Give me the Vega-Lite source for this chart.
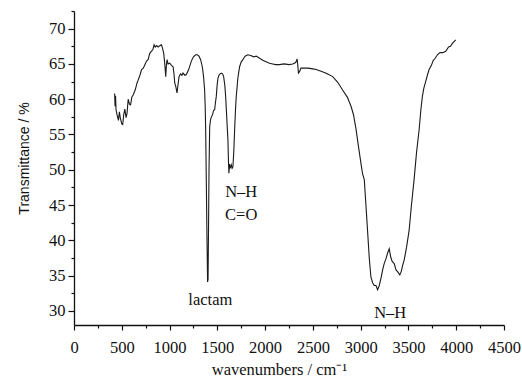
{
  "$schema": "https://vega.github.io/schema/vega-lite/v6.json",
  "width": 430,
  "height": 314,
  "autosize": "none",
  "padding": {"left": 74, "top": 11, "right": 18, "bottom": 54},
  "background": "white",
  "config": {"view": {"stroke": null}},
  "datasets": {
    "spectrum": [
      {"wn": 425, "T": 60.8}, {"wn": 430, "T": 59.0}, {"wn": 435, "T": 60.5}, {"wn": 440, "T": 58.5},
      {"wn": 450, "T": 57.8}, {"wn": 465, "T": 57.0}, {"wn": 475, "T": 58.2}, {"wn": 485, "T": 57.3},
      {"wn": 500, "T": 56.5}, {"wn": 510, "T": 56.4}, {"wn": 520, "T": 57.8}, {"wn": 532, "T": 58.6},
      {"wn": 545, "T": 57.4}, {"wn": 555, "T": 58.0}, {"wn": 567, "T": 60.0}, {"wn": 580, "T": 59.3},
      {"wn": 592, "T": 59.2}, {"wn": 605, "T": 60.3}, {"wn": 619, "T": 60.6}, {"wn": 640, "T": 61.3},
      {"wn": 660, "T": 62.3}, {"wn": 671, "T": 62.7}, {"wn": 690, "T": 63.4}, {"wn": 707, "T": 64.2},
      {"wn": 725, "T": 64.4}, {"wn": 745, "T": 65.0}, {"wn": 759, "T": 65.4}, {"wn": 775, "T": 65.6},
      {"wn": 793, "T": 66.5}, {"wn": 810, "T": 66.8}, {"wn": 825, "T": 67.0}, {"wn": 838, "T": 67.7},
      {"wn": 850, "T": 67.4}, {"wn": 865, "T": 67.6}, {"wn": 880, "T": 67.4}, {"wn": 900, "T": 67.6},
      {"wn": 915, "T": 67.7}, {"wn": 925, "T": 67.3}, {"wn": 939, "T": 66.5}, {"wn": 950, "T": 65.0},
      {"wn": 960, "T": 63.2}, {"wn": 967, "T": 64.8}, {"wn": 974, "T": 65.6}, {"wn": 985, "T": 65.0},
      {"wn": 1002, "T": 65.1}, {"wn": 1020, "T": 64.8}, {"wn": 1037, "T": 64.6}, {"wn": 1047, "T": 63.5},
      {"wn": 1054, "T": 62.3}, {"wn": 1065, "T": 61.8}, {"wn": 1078, "T": 60.9}, {"wn": 1088, "T": 62.0},
      {"wn": 1099, "T": 63.2}, {"wn": 1115, "T": 63.6}, {"wn": 1130, "T": 63.4}, {"wn": 1141, "T": 63.7},
      {"wn": 1160, "T": 63.4}, {"wn": 1176, "T": 63.5}, {"wn": 1200, "T": 64.2}, {"wn": 1228, "T": 65.4},
      {"wn": 1250, "T": 66.0}, {"wn": 1273, "T": 66.3}, {"wn": 1290, "T": 66.3}, {"wn": 1308, "T": 66.1},
      {"wn": 1325, "T": 65.6}, {"wn": 1343, "T": 64.6}, {"wn": 1355, "T": 63.3}, {"wn": 1367, "T": 61.3},
      {"wn": 1373, "T": 59.0}, {"wn": 1378, "T": 55.7}, {"wn": 1385, "T": 48.0}, {"wn": 1392, "T": 40.0},
      {"wn": 1398, "T": 34.1}, {"wn": 1403, "T": 34.5}, {"wn": 1408, "T": 42.0}, {"wn": 1413, "T": 50.0},
      {"wn": 1420, "T": 56.1}, {"wn": 1428, "T": 57.0}, {"wn": 1437, "T": 57.5}, {"wn": 1450, "T": 57.8},
      {"wn": 1460, "T": 58.4}, {"wn": 1472, "T": 58.5}, {"wn": 1480, "T": 59.5}, {"wn": 1489, "T": 60.4},
      {"wn": 1498, "T": 62.0}, {"wn": 1507, "T": 63.0}, {"wn": 1520, "T": 63.5}, {"wn": 1541, "T": 63.7},
      {"wn": 1555, "T": 63.6}, {"wn": 1566, "T": 63.2}, {"wn": 1578, "T": 62.0}, {"wn": 1587, "T": 60.4},
      {"wn": 1600, "T": 57.0}, {"wn": 1611, "T": 54.2}, {"wn": 1617, "T": 51.0}, {"wn": 1621, "T": 49.5},
      {"wn": 1628, "T": 50.8}, {"wn": 1635, "T": 50.2}, {"wn": 1646, "T": 50.7}, {"wn": 1655, "T": 50.2},
      {"wn": 1663, "T": 50.4}, {"wn": 1672, "T": 52.5}, {"wn": 1681, "T": 55.7}, {"wn": 1690, "T": 58.5},
      {"wn": 1698, "T": 60.4}, {"wn": 1715, "T": 63.0}, {"wn": 1733, "T": 64.6}, {"wn": 1750, "T": 65.3},
      {"wn": 1767, "T": 65.6}, {"wn": 1790, "T": 66.1}, {"wn": 1820, "T": 66.3}, {"wn": 1850, "T": 66.2},
      {"wn": 1880, "T": 66.0}, {"wn": 1907, "T": 66.1}, {"wn": 1942, "T": 65.8}, {"wn": 1980, "T": 65.5},
      {"wn": 2010, "T": 65.3}, {"wn": 2046, "T": 65.1}, {"wn": 2080, "T": 65.0}, {"wn": 2110, "T": 64.9},
      {"wn": 2150, "T": 64.9}, {"wn": 2200, "T": 65.0}, {"wn": 2250, "T": 64.9}, {"wn": 2289, "T": 65.0},
      {"wn": 2320, "T": 65.2}, {"wn": 2335, "T": 65.7}, {"wn": 2342, "T": 64.8}, {"wn": 2349, "T": 63.7},
      {"wn": 2360, "T": 63.9}, {"wn": 2375, "T": 64.4}, {"wn": 2394, "T": 64.4}, {"wn": 2450, "T": 64.4},
      {"wn": 2500, "T": 64.3}, {"wn": 2533, "T": 64.2}, {"wn": 2600, "T": 63.9}, {"wn": 2650, "T": 63.6},
      {"wn": 2707, "T": 63.2}, {"wn": 2760, "T": 62.4}, {"wn": 2811, "T": 61.3}, {"wn": 2860, "T": 60.3},
      {"wn": 2899, "T": 59.0}, {"wn": 2925, "T": 57.8}, {"wn": 2951, "T": 55.8}, {"wn": 2975, "T": 53.5},
      {"wn": 3003, "T": 50.9}, {"wn": 3020, "T": 49.4}, {"wn": 3038, "T": 48.6}, {"wn": 3055, "T": 45.0},
      {"wn": 3072, "T": 41.4}, {"wn": 3090, "T": 37.5}, {"wn": 3107, "T": 34.8}, {"wn": 3125, "T": 34.0},
      {"wn": 3142, "T": 33.6}, {"wn": 3160, "T": 33.6}, {"wn": 3177, "T": 33.0}, {"wn": 3195, "T": 33.6},
      {"wn": 3212, "T": 34.6}, {"wn": 3230, "T": 35.8}, {"wn": 3246, "T": 36.7}, {"wn": 3265, "T": 37.4},
      {"wn": 3282, "T": 38.2}, {"wn": 3299, "T": 38.8}, {"wn": 3315, "T": 37.6}, {"wn": 3330, "T": 37.0},
      {"wn": 3351, "T": 36.7}, {"wn": 3370, "T": 35.8}, {"wn": 3390, "T": 35.5}, {"wn": 3410, "T": 35.1},
      {"wn": 3425, "T": 35.6}, {"wn": 3440, "T": 36.5}, {"wn": 3455, "T": 37.2}, {"wn": 3480, "T": 39.0},
      {"wn": 3507, "T": 41.4}, {"wn": 3530, "T": 44.8}, {"wn": 3559, "T": 48.6}, {"wn": 3585, "T": 52.5},
      {"wn": 3612, "T": 55.7}, {"wn": 3630, "T": 58.5}, {"wn": 3646, "T": 60.4}, {"wn": 3660, "T": 61.5},
      {"wn": 3680, "T": 62.5}, {"wn": 3700, "T": 63.5}, {"wn": 3716, "T": 64.2}, {"wn": 3740, "T": 64.8},
      {"wn": 3760, "T": 65.5}, {"wn": 3780, "T": 65.8}, {"wn": 3803, "T": 66.3}, {"wn": 3830, "T": 66.6},
      {"wn": 3860, "T": 66.6}, {"wn": 3890, "T": 66.8}, {"wn": 3920, "T": 67.4}, {"wn": 3940, "T": 67.5},
      {"wn": 3960, "T": 67.9}, {"wn": 3980, "T": 68.2}, {"wn": 3995, "T": 68.4}
    ],
    "labels": [
      {"wn": 1427, "T": 31.6, "label": "lactam"},
      {"wn": 1750, "T": 46.9, "label": "N–H"},
      {"wn": 1750, "T": 43.6, "label": "C=O"},
      {"wn": 3309, "T": 29.7, "label": "N–H"}
    ]
  },
  "resolve": {"axis": {"x": "independent", "y": "independent"}},
  "layer": [
    {
      "data": {"name": "spectrum"},
      "mark": {"type": "line", "color": "#1a1a1a", "strokeWidth": 1.1, "interpolate": "linear"},
      "encoding": {
        "x": {
          "field": "wn", "type": "quantitative",
          "scale": {"domain": [0, 4500], "nice": false, "zero": false},
          "axis": {
            "orient": "bottom",
            "title": "wavenumbers / cm⁻¹",
            "titleFont": "Liberation Serif", "titleFontSize": 16.5, "titleFontWeight": "normal", "titleColor": "#111",
            "titlePadding": 6, "titleX": 205,
            "values": [0, 500, 1000, 1500, 2000, 2500, 3000, 3500, 4000, 4500],
            "format": "d",
            "labelFont": "Liberation Serif", "labelFontSize": 16.5, "labelColor": "#111",
            "labelPadding": 9, "labelFlush": false, "labelOverlap": false,
            "tickSize": 5,
            "tickColor": "#111", "tickWidth": 1.2,
            "domainColor": "#111", "domainWidth": 1.3,
            "grid": false
          }
        },
        "y": {
          "field": "T", "type": "quantitative",
          "scale": {"domain": [28, 72.5], "nice": false, "zero": false},
          "axis": {
            "orient": "left",
            "title": "Transmittance / %",
            "titleFont": "Liberation Sans", "titleFontSize": 14, "titleFontWeight": "normal", "titleColor": "#111",
            "titlePadding": 17, "titleY": 147,
            "values": [30, 35, 40, 45, 50, 55, 60, 65, 70],
            "format": "d",
            "labelFont": "Liberation Serif", "labelFontSize": 16.5, "labelColor": "#111",
            "labelPadding": 3, "labelFlush": false, "labelOverlap": false,
            "tickSize": 6,
            "tickColor": "#111", "tickWidth": 1.2,
            "domainColor": "#111", "domainWidth": 1.3,
            "grid": false
          }
        }
      }
    },
    {
      "data": {"name": "labels"},
      "mark": {"type": "text", "font": "Liberation Serif", "fontSize": 16.5, "color": "#111", "align": "center", "baseline": "middle"},
      "encoding": {
        "x": {
          "field": "wn", "type": "quantitative",
          "axis": {
            "orient": "bottom", "title": null, "labels": false, "domain": false, "grid": false,
            "values": [250, 750, 1250, 1750, 2250, 2750, 3250, 3750, 4250],
            "tickSize": 3, "tickColor": "#111", "tickWidth": 1.2
          }
        },
        "y": {
          "field": "T", "type": "quantitative",
          "axis": {
            "orient": "left", "title": null, "labels": false, "domain": false, "grid": false,
            "values": [32.5, 37.5, 42.5, 47.5, 52.5, 57.5, 62.5, 67.5, 72.5],
            "tickSize": 3, "tickColor": "#111", "tickWidth": 1.2
          }
        },
        "text": {"field": "label"}
      }
    }
  ]
}
